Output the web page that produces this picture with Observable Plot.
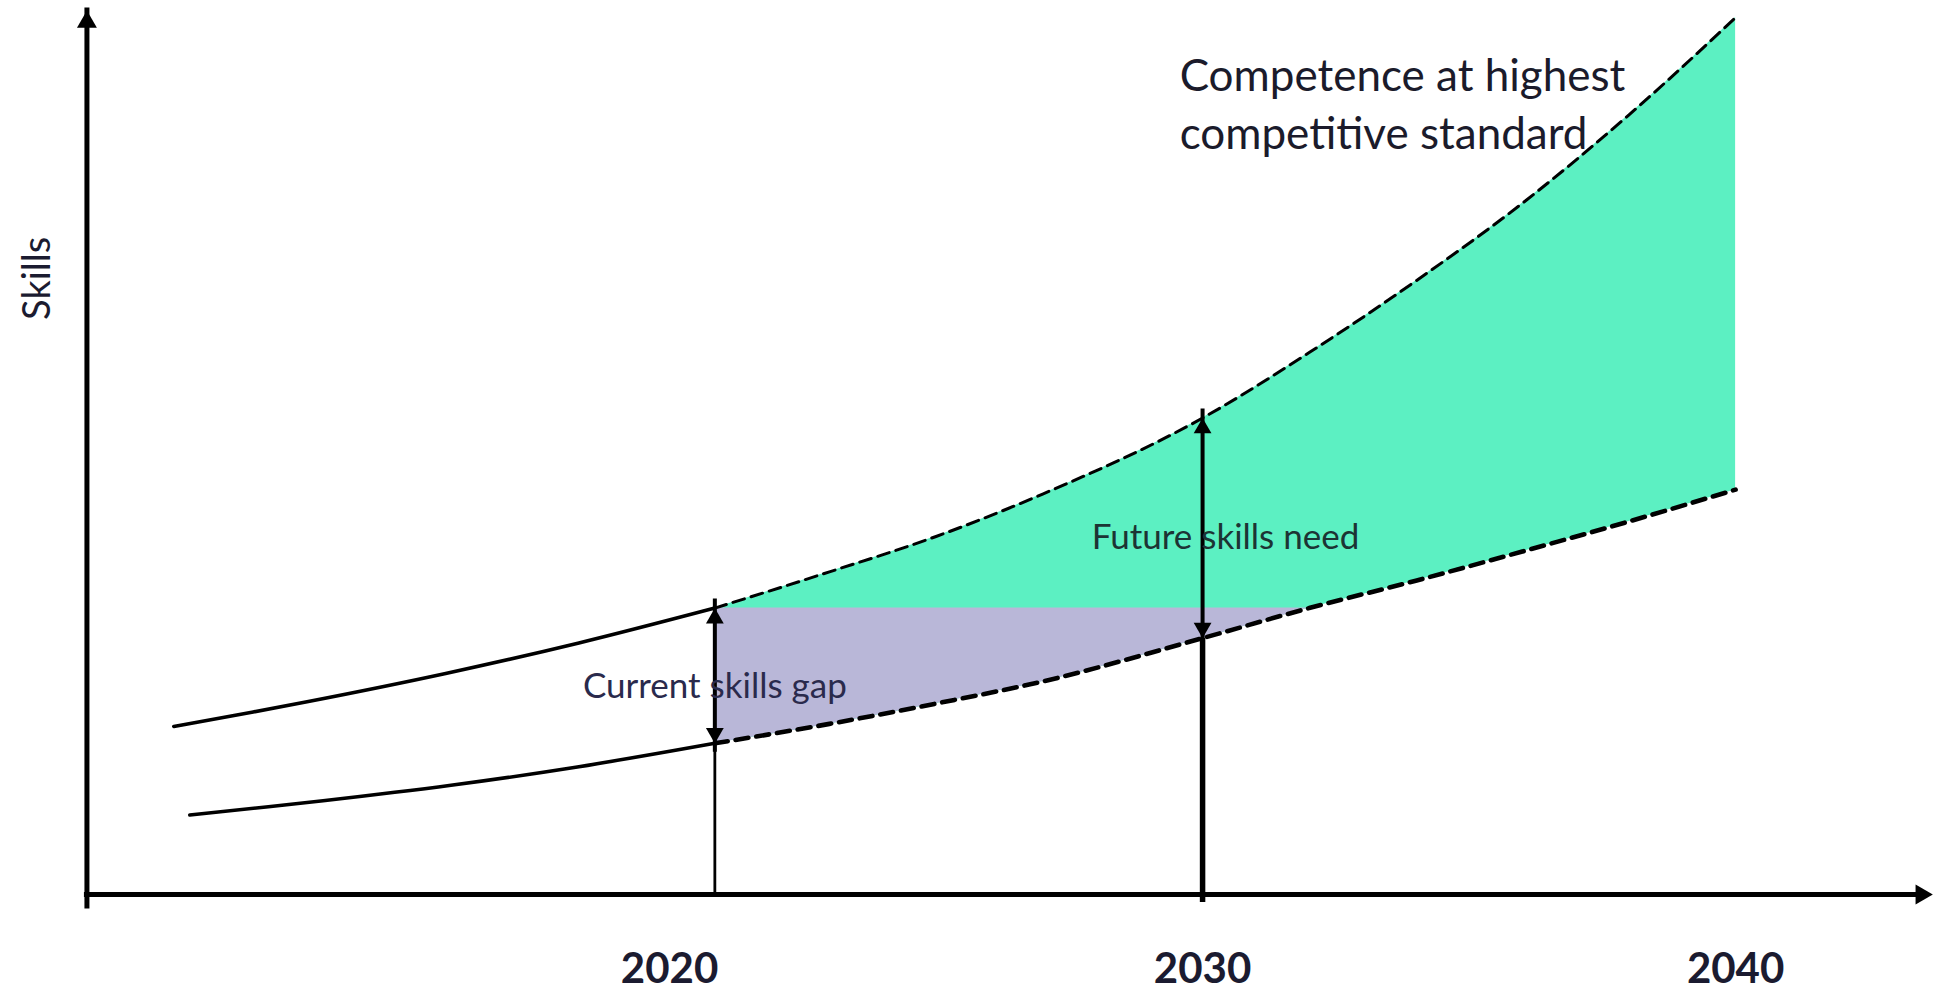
<!DOCTYPE html>
<html><head><meta charset="utf-8">
<script src="https://cdn.jsdelivr.net/npm/d3@7"></script>
<script src="https://cdn.jsdelivr.net/npm/@observablehq/plot@0.6"></script>
<style>
html,body{margin:0;padding:0;background:#fff;}
#chart{width:1936px;height:995px;}
</style></head>
<body><div id="chart"></div>
<script>
// ---- data (x in years, y in arbitrary skill units 0–100) ----
const historyUpperYears  = [2010.7, 2013.2, 2015.8, 2018.3, 2020.85];
const historyUpperSkills = [19.0, 21.8, 25.0, 28.45, 32.4];
const historyLowerYears  = [2011.0, 2013.5, 2015.9, 2018.3, 2020.85];
const historyLowerSkills = [9.0, 10.6, 12.35, 14.45, 17.1];
const futureYears        = [2020.85, 2023, 2025, 2027, 2030, 2032, 2034, 2036, 2038, 2040];
const highestStandard    = [32.4, 36.5, 40.5, 45.3, 53.9, 61.3, 69.4, 78.2, 88.2, 99.2];
const currentTrajectory  = [17.1, 19.3, 21.6, 24.1, 29.0, 32.4, 35.5, 38.8, 42.2, 45.8];
const currentLevel = 32.4;
const needYear = 2030;
const tickYears = [2020, 2030, 2040];
const axisStartYear = 2009.07, axisEndYear = 2043.7, axisTopSkill = 100;

// ---- tables built from the arrays ----
const upperHist = historyUpperYears.map((year, i) => ({year, skill: historyUpperSkills[i]}));
const lowerHist = historyLowerYears.map((year, i) => ({year, skill: historyLowerSkills[i]}));
const future = futureYears.map((year, i) => ({year, highest: highestStandard[i], trajectory: currentTrajectory[i]}));
const gapRows = future.filter(d => d.trajectory <= currentLevel);
const now = future[0];
const need = future.find(d => d.year === needYear);

const font = "Lato, 'Open Sans', sans-serif";
const headR = 6.6, headOff = 10.2;   // arrowhead size
const axR = 7.4, axOff = 11.5;

const chart = Plot.plot({
  width: 1936, height: 995,
  marginLeft: 82.7, marginRight: 1, marginTop: 10, marginBottom: 101,
  x: {domain: [2009, 2043.75], axis: null},
  y: {domain: [0, 100], axis: null},
  style: {fontFamily: font, background: "#fff"},
  marks: [
    // fills
    Plot.areaY(future, {x: "year", y1: "trajectory", y2: "highest", fill: "#5cf0c2", curve: "monotone-x"}),
    Plot.areaY(gapRows, {x: "year", y1: "trajectory", y2: () => currentLevel, fill: "#b9b7d8", curve: "monotone-x"}),
    // historic solid lines
    Plot.line(upperHist, {x: "year", y: "skill", stroke: "#000", strokeWidth: 3.6, curve: "catmull-rom"}),
    Plot.line(lowerHist, {x: "year", y: "skill", stroke: "#000", strokeWidth: 3.6, curve: "catmull-rom"}),
    // projected dashed lines
    Plot.line(future, {x: "year", y: "highest", stroke: "#000", strokeWidth: 3, strokeDasharray: "12,7", curve: "monotone-x"}),
    Plot.line(future, {x: "year", y: "trajectory", stroke: "#000", strokeWidth: 4.6, strokeDasharray: "13,8", curve: "monotone-x"}),
    // drop lines
    Plot.ruleX([now], {x: "year", y1: 0, y2: "trajectory", stroke: "#000", strokeWidth: 2.8}),
    Plot.ruleX([need], {x: "year", y1: 0, y2: "trajectory", stroke: "#000", strokeWidth: 5.5, insetTop: 8}),
    // double arrows
    Plot.ruleX([now, need], {x: "year", y1: "trajectory", y2: "highest", stroke: "#000", strokeWidth: 4, insetTop: 9, insetBottom: 9}),
    Plot.dot([now, need], {x: "year", y: "highest", symbol: "triangle", r: headR, fill: "#000", stroke: "none", dy: headOff}),
    Plot.dot([now, need], {x: "year", y: "trajectory", symbol: "triangle", r: headR, rotate: 180, fill: "#000", stroke: "none", dy: -headOff}),
    // axes
    Plot.ruleY([0], {x1: axisStartYear, x2: axisEndYear, stroke: "#000", strokeWidth: 5, insetRight: 12, strokeLinecap: "square"}),
    Plot.ruleX([axisStartYear], {y1: 0, y2: axisTopSkill, stroke: "#000", strokeWidth: 5, insetTop: 12, strokeLinecap: "square"}),
    Plot.dot([{year: axisStartYear, skill: axisTopSkill}], {x: "year", y: "skill", symbol: "triangle", r: axR, fill: "#000", stroke: "none", dy: axOff}),
    Plot.dot([{year: axisEndYear, skill: 0}], {x: "year", y: "skill", symbol: "triangle", r: axR, rotate: 90, fill: "#000", stroke: "none", dx: -axOff}),
    // tick labels
    Plot.text(tickYears, {x: d => d, y: () => 0, dy: 75, text: d => String(d), fontSize: 42, fontWeight: 700, fill: "#1b1b30", fontFamily: font}),
    // axis title
    Plot.text(["Skills"], {x: () => axisStartYear, y: () => 69.7, dx: -49, rotate: -90, fontSize: 38, fill: "#1b1b30", fontFamily: font}),
    // annotations
    Plot.text(["Current skills gap"], {x: () => now.year, y: () => 23.5, fontSize: 35, fill: "#2a2a4c", fontFamily: font}),
    Plot.text(["Future skills need"], {x: () => 2030.43, y: () => 40.3, fontSize: 35, fill: "#1c3434", fontFamily: font}),
    Plot.text(["Competence at highest\ncompetitive standard"], {x: () => 2029.57, y: () => 89.75, textAnchor: "start", lineHeight: 1.32, fontSize: 44, fill: "#1b1b2b", fontFamily: font})
  ]
});
document.getElementById("chart").appendChild(chart);
</script>
</body></html>
